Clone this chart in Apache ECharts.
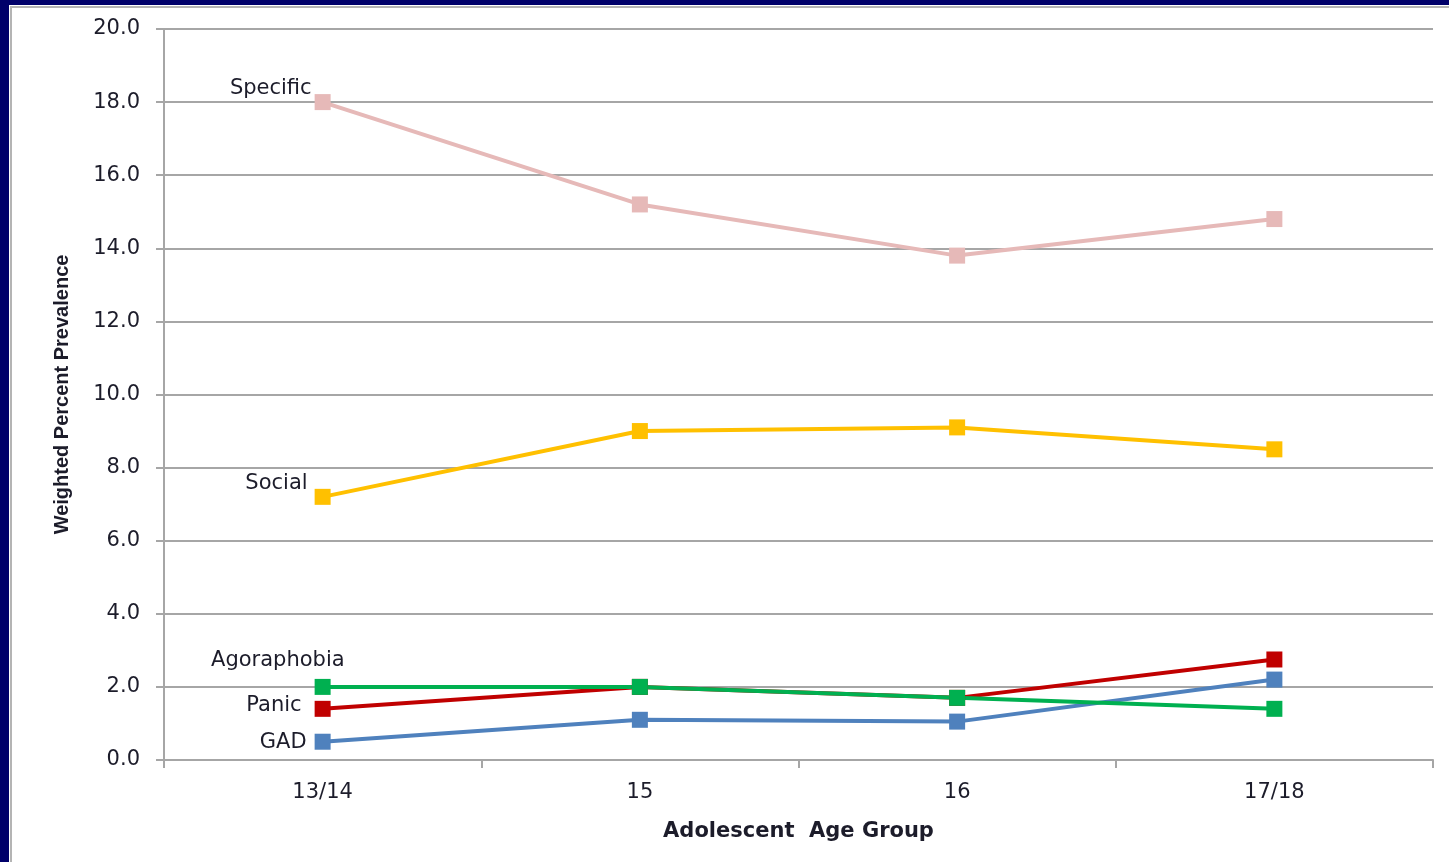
<!DOCTYPE html>
<html>
<head>
<meta charset="utf-8">
<title>Anxiety disorder prevalence by adolescent age group</title>
<script src="https://cdn.jsdelivr.net/npm/echarts@6/dist/echarts.min.js"></script>
<style>
  html, body { margin: 0; padding: 0; background: #fff; }
  #chart { width: 1449px; height: 862px; }
</style>
</head>
<body>
<div id="chart"></div>
<script>
// Age groups along the x axis
const ageGroups = ['13/14', '15', '16', '17/18'];

// Weighted percent prevalence per disorder
const specific    = [18.0, 15.2, 13.8, 14.8];
const social      = [7.2, 9.0, 9.1, 8.5];
const panic       = [1.4, 2.0, 1.7, 2.75];
const gad         = [0.5, 1.1, 1.05, 2.2];
const agoraphobia = [2.0, 2.0, 1.7, 1.4];

const tickFont = 'DejaVu Sans, Liberation Sans, Arial, sans-serif';
const textColor = '#1c1c2a';
const gridGray = '#a6a6a6';

// Name label drawn beside the first point of each line
function nameLabel(text, distance, offset) {
  return {
    show: true,
    position: 'left',
    distance: distance,
    offset: offset,
    formatter: text,
    color: textColor,
    fontFamily: tickFont,
    fontSize: 21
  };
}

function lineSeries(name, data, color, label) {
  return {
    name: name,
    type: 'line',
    data: data.map((v, i) => i === 0 ? { value: v, label: label } : v),
    symbol: 'rect',
    symbolSize: 16,
    showSymbol: true,
    lineStyle: { color: color, width: 4 },
    itemStyle: { color: color },
    label: { show: false },
    emphasis: { disabled: true },
    animation: false
  };
}

const chart = echarts.init(document.getElementById('chart'), null, { renderer: 'canvas' });

chart.setOption({
  backgroundColor: '#ffffff',
  animation: false,
  graphic: [
    // dark frame round the slide
    { type: 'rect', shape: { x: 0, y: 0, width: 1449, height: 5 }, style: { fill: '#00006a' }, silent: true },
    { type: 'rect', shape: { x: 0, y: 0, width: 9, height: 862 }, style: { fill: '#00006a' }, silent: true },
    { type: 'rect', shape: { x: 10, y: 6, width: 1439, height: 2 }, style: { fill: '#b4b4b4' }, silent: true },
    { type: 'rect', shape: { x: 10, y: 6, width: 2, height: 856 }, style: { fill: '#b4b4b4' }, silent: true }
  ],
  grid: { left: 164, top: 29, right: 16, bottom: 102, containLabel: false },
  xAxis: {
    type: 'category',
    data: ageGroups,
    boundaryGap: true,
    name: 'Adolescent  Age Group',
    nameLocation: 'middle',
    nameGap: 61,
    nameTextStyle: { fontFamily: tickFont, fontWeight: 'bold', fontSize: 21, color: textColor },
    axisLine: { lineStyle: { color: gridGray, width: 2 } },
    axisTick: { show: true, length: 8, alignWithLabel: false, lineStyle: { color: gridGray, width: 2 } },
    axisLabel: { margin: 22, fontFamily: tickFont, fontSize: 21, color: textColor },
    splitLine: { show: false }
  },
  yAxis: {
    type: 'value',
    min: 0,
    max: 20,
    interval: 2,
    name: 'Weighted Percent Prevalence',
    nameLocation: 'middle',
    nameGap: 92,
    nameRotate: 90,
    nameTextStyle: { fontFamily: "'Liberation Sans Narrow', 'Liberation Sans', Arial, sans-serif", fontWeight: 'bold', fontSize: 20, color: textColor },
    axisLine: { show: true, lineStyle: { color: gridGray, width: 2 } },
    axisTick: { show: true, length: 8, lineStyle: { color: gridGray, width: 2 } },
    axisLabel: { margin: 24, padding: [4, 0, 0, 0], fontFamily: tickFont, fontSize: 21, color: textColor, formatter: v => v.toFixed(1) },
    splitLine: { show: true, lineStyle: { color: gridGray, width: 2 } }
  },
  series: [
    lineSeries('Specific', specific, '#e6b9b8', nameLabel('Specific', 3, [0, -14])),
    lineSeries('Social', social, '#ffc000', nameLabel('Social', 7, [0, -13])),
    lineSeries('Panic', panic, '#c00000', nameLabel('Panic', 13, [0, -3])),
    lineSeries('GAD', gad, '#4f81bd', nameLabel('GAD', 8, [0, 1])),
    lineSeries('Agoraphobia', agoraphobia, '#00b050', nameLabel('Agoraphobia', 0, [30, -26]))
  ]
});
</script>
</body>
</html>
